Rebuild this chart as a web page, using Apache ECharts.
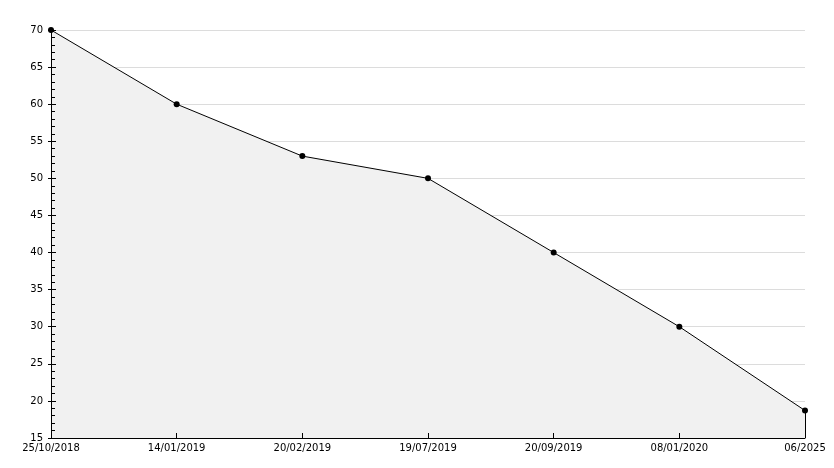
<!DOCTYPE html>
<html><head><meta charset="utf-8">
<script src="https://cdn.jsdelivr.net/npm/echarts@6/dist/echarts.min.js"></script>
<style>html,body{margin:0;padding:0;background:#fff}#c{width:834px;height:468px}</style>
</head><body><div id="c"></div>
<script>
const categories = ['25/10/2018','14/01/2019','20/02/2019','19/07/2019','20/09/2019','08/01/2020','06/2025'];
const values = [70, 60, 53, 50, 40, 30, 18.7];
const yMin = 15, yMax = 70, yStep = 5;

const chart = echarts.init(document.getElementById('c'), null, {renderer:'canvas'});
const font = 'DejaVu Sans';
const last = categories.length - 1;
chart.setOption({
  animation: false,
  backgroundColor: '#fff',
  grid: {left: 51, right: 29, top: 30, bottom: 30, containLabel: false},
  xAxis: {
    type: 'category', data: categories, boundaryGap: false, z: 5,
    axisLine: {lineStyle: {color: '#000', width: 1}},
    axisTick: {show: true, inside: true, length: 5, alignWithLabel: true, lineStyle: {color: '#000'}},
    axisLabel: {interval: 0, color: '#000', fontFamily: font, fontSize: 10, margin: 5},
    splitLine: {show: false}
  },
  yAxis: [{
    type: 'value', min: yMin, max: yMax, interval: yStep, z: 0,
    axisLine: {show: false},
    axisTick: {show: true, inside: false, length: 3, lineStyle: {color: '#000'}},
    axisLabel: {color: '#000', fontFamily: font, fontSize: 10, margin: 8},
    splitLine: {show: true, lineStyle: {color: '#dcdcdc', width: 1}}
  }, {
    type: 'value', min: yMin, max: yMax, interval: yStep, position: 'left', z: 5,
    axisLine: {show: true, lineStyle: {color: '#000', width: 1}},
    axisTick: {show: true, inside: true, length: 5, lineStyle: {color: '#000'}},
    minorTick: {show: true, splitNumber: 5, length: 4, lineStyle: {color: '#000'}},
    axisLabel: {show: false},
    splitLine: {show: false}
  }],
  series: [{
    type: 'line', data: values, yAxisIndex: 0,
    symbol: 'circle', symbolSize: 6, showAllSymbol: true,
    itemStyle: {color: '#000'},
    lineStyle: {color: '#000', width: 1},
    areaStyle: {color: '#f1f1f1', opacity: 1},
    markLine: {
      silent: true, symbol: 'none', label: {show: false},
      lineStyle: {color: '#000', width: 1, type: 'solid'},
      data: [[{coord: [last, yMin]}, {coord: [last, values[last]]}]]
    }
  }]
});
</script></body></html>
